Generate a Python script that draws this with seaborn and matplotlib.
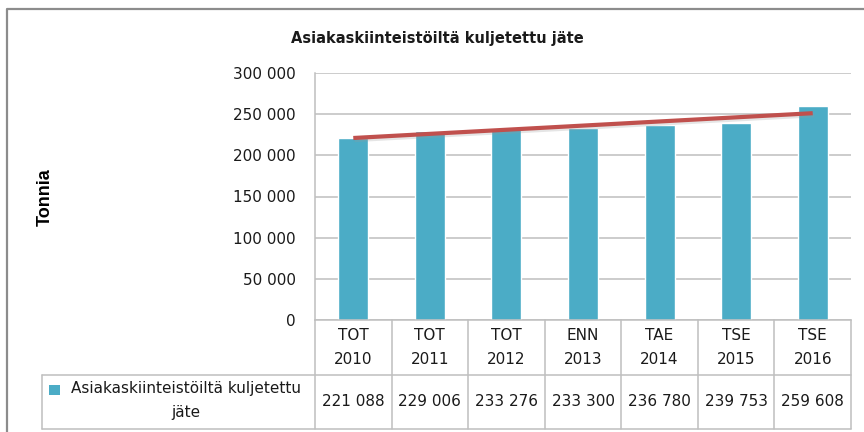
import numpy as np
import pandas as pd
import matplotlib
matplotlib.use("Agg")
import matplotlib.pyplot as plt
import matplotlib.patheffects as pe
from matplotlib.lines import Line2D
from matplotlib.patches import Rectangle
import seaborn as sns

# ---- data ----
codes = ["TOT", "TOT", "TOT", "ENN", "TAE", "TSE", "TSE"]
years = [2010, 2011, 2012, 2013, 2014, 2015, 2016]
values = [221088, 229006, 233276, 233300, 236780, 239753, 259608]
series_name = "Asiakaskiinteistöiltä kuljetettu jäte"
title = "Asiakaskiinteistöiltä kuljetettu jäte"
ylabel = "Tonnia"
yticks = [0, 50000, 100000, 150000, 200000, 250000, 300000]

BAR = "#4BACC6"
TREND = "#C0504D"
GRID = "#BFBFBF"
TXT = "#1a1a1a"

sns.set_style("white")
plt.rcParams["font.family"] = ["DejaVu Sans"]

W, H = 864, 432
fig = plt.figure(figsize=(W / 100, H / 100), dpi=100)


def fx(px):
    return px / W


def fy(py):
    return 1 - py / H


AX_L, AX_R, AX_T, AX_B = 315, 851, 73, 320
ax = fig.add_axes([fx(AX_L), fy(AX_B), (AX_R - AX_L) / W, (AX_B - AX_T) / H])


def ya(py):
    return (AX_B - py) / (AX_B - AX_T)


def fmt(v):
    return f"{v:,}".replace(",", " ")


df = pd.DataFrame({"pos": list(range(len(values))), "value": values})

sns.barplot(data=df, x="pos", y="value", color=BAR, saturation=1, width=0.39,
            ax=ax, zorder=2)
sns.regplot(data=df, x="pos", y="value", scatter=False, ci=None, truncate=True,
            ax=ax,
            line_kws=dict(color=TREND, lw=3, solid_capstyle="butt", zorder=3,
                          path_effects=[pe.SimpleLineShadow(offset=(1, -1.5), shadow_color="#999999", alpha=0.25),
                                        pe.Normal()]))

ax.set_xlim(-0.5, len(values) - 0.5)
ax.set_ylim(0, 300000)
ax.set_yticks(yticks)
ax.set_yticklabels([fmt(t) for t in yticks], fontsize=11, color=TXT)
ax.tick_params(axis="y", length=0, pad=14)
ax.set_xticks([])
ax.set_xlabel("")
ax.set_ylabel("")
ax.yaxis.grid(True, color=GRID, lw=1.1)
ax.set_axisbelow(True)
for s in ["top", "right"]:
    ax.spines[s].set_visible(False)
for s in ["left", "bottom"]:
    ax.spines[s].set_color(GRID)
    ax.spines[s].set_linewidth(1.1)

# ---- data table ----
xt = ax.get_xaxis_transform()
for i, (c, y, v) in enumerate(zip(codes, years, values)):
    ax.text(i, ya(335), c, ha="center", va="center", fontsize=11, color=TXT, transform=xt, clip_on=False)
    ax.text(i, ya(360), str(y), ha="center", va="center", fontsize=11, color=TXT, transform=xt, clip_on=False)
    ax.text(i, ya(402), fmt(v), ha="center", va="center", fontsize=11, color=TXT, transform=xt, clip_on=False)

for b in np.arange(-0.5, len(values), 1.0):
    ax.plot([b, b], [0, ya(429)], color=GRID, lw=1.1, transform=xt, clip_on=False)

for py in (375, 429):
    fig.add_artist(Line2D([fx(42), fx(AX_R)], [fy(py), fy(py)], color=GRID, lw=1.1))
fig.add_artist(Line2D([fx(42), fx(42)], [fy(375), fy(429)], color=GRID, lw=1.1))

# legend key in the table
fig.add_artist(Rectangle((fx(49), fy(395)), 11 / W, 10 / H, color=BAR, lw=0))
fig.text(fx(186), fy(388), "Asiakaskiinteistöiltä kuljetettu", ha="center", va="center",
         fontsize=11, color=TXT)
fig.text(fx(186), fy(413), "jäte", ha="center", va="center", fontsize=11, color=TXT)

# title and axis label
fig.text(fx(437), fy(38), title, ha="center", va="center", fontsize=10.5,
         fontweight="bold", color=TXT)
fig.text(fx(45), fy(197), ylabel, ha="center", va="center", rotation=90,
         fontsize=13, fontweight="bold", color="black", family=["Liberation Sans", "DejaVu Sans"])

# outer chart frame
fig.add_artist(Line2D([fx(7), fx(7), fx(864)], [fy(432), fy(9), fy(9)],
                      color="#8C8C8C", lw=1.6))

fig.savefig("out.png", dpi=100)
